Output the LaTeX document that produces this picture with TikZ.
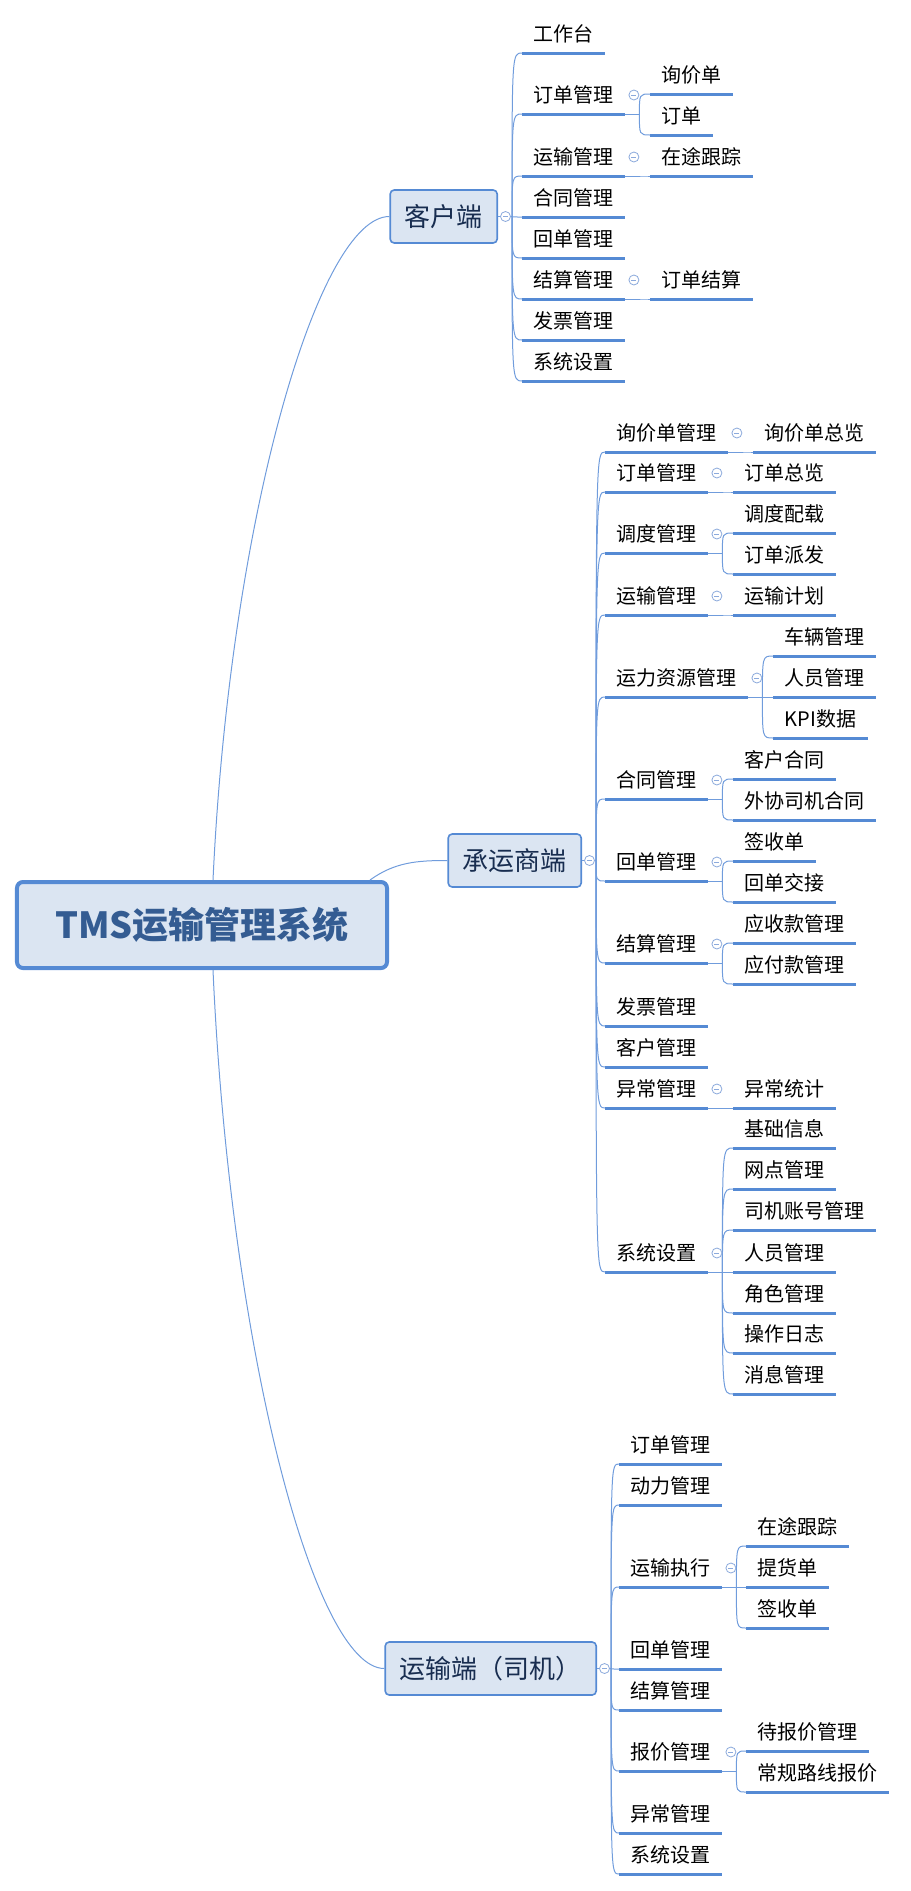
\documentclass[tikz,border=0pt]{standalone}
\usepackage{fontspec}
\setmainfont{Noto Sans CJK SC}
\usetikzlibrary{positioning}
\definecolor{linkblue}{RGB}{112,156,220}
\definecolor{lineblue}{RGB}{85,138,212}
\definecolor{boxfill}{RGB}{219,229,242}
\definecolor{foldblue}{RGB}{140,170,220}
\definecolor{rootblue}{RGB}{52,92,146}
\definecolor{navy}{RGB}{24,45,80}

\begin{document}
\begin{tikzpicture}[x=1bp, y=-1bp,
        every node/.style={font=\fontsize{20bp}{24bp}\selectfont},
        root/.style={draw=lineblue, fill=boxfill, line width=4bp, rounded corners=6bp,
            minimum width=370bp, minimum height=86bp, text=rootblue,
            font=\bfseries\fontsize{36bp}{40bp}\selectfont},
        main/.style={draw=lineblue, fill=boxfill, line width=1.6bp, rounded corners=4bp,
            minimum height=53bp, inner xsep=14.5bp, text=navy, anchor=east,
            font=\fontsize{26bp}{30bp}\selectfont},
        uline/.style={draw=lineblue, line width=3bp},
        topic/.style={anchor=south west, inner xsep=11.5bp, inner ysep=5.5bp,
            text height=15.5bp, text depth=5.5bp,
            append after command={(\tikzlastnode.south west) edge[uline] (\tikzlastnode.south east)}},
        link/.style={draw=linkblue, line width=1bp},
        fold/.style={circle, draw=foldblue, fill=white, line width=0.8bp, minimum size=10bp, inner sep=0pt,
            path picture={\draw[foldblue, line width=0.8bp] ([xshift=2.5bp]path picture bounding box.west) -- ([xshift=-2.5bp]path picture bounding box.east);}}]
    \useasboundingbox (0,0) rectangle (911,1891);

    \node[root] (tms) at (202,925) {TMS运输管理系统};
    \node[main] (kh) at (498,216.5) {客户端};
    \node[main] (cy) at (582,860.5) {承运商端};
    \node[main] (sj) at (597,1668.5) {运输端（司机）};

    \draw[link] ([xshift=11bp]tms.north) .. controls +(17,-362) and +(-71,0) .. (kh.west);
    \draw[link] ([xshift=-19bp]tms.north east) .. controls +(25,-18) and +(-30,0) .. (cy.west);
    \draw[link] ([xshift=11bp]tms.south) .. controls +(17,380) and +(-70,0) .. (sj.west);

    % 客户端
    \node[topic] (kh1) at (522,53) {工作台};
    \node[topic] (kh2) at (522,114) {订单管理};
    \node[topic] (kh2a) at (650,94) {询价单};
    \node[topic] (kh2b) at (650,135) {订单};
    \node[topic] (kh3) at (522,176) {运输管理};
    \node[topic] (kh3a) at (650,176) {在途跟踪};
    \node[topic] (kh4) at (522,217) {合同管理};
    \node[topic] (kh5) at (522,258) {回单管理};
    \node[topic] (kh6) at (522,299) {结算管理};
    \node[topic] (kh6a) at (650,299) {订单结算};
    \node[topic] (kh7) at (522,340) {发票管理};
    \node[topic] (kh8) at (522,381) {系统设置};

    % 承运商端
    \node[topic] (cy1) at (605,452) {询价单管理};
    \node[topic] (cy1a) at (753,452) {询价单总览};
    \node[topic] (cy2) at (605,492) {订单管理};
    \node[topic] (cy2a) at (733,492) {订单总览};
    \node[topic] (cy3) at (605,553) {调度管理};
    \node[topic] (cy3a) at (733,533) {调度配载};
    \node[topic] (cy3b) at (733,574) {订单派发};
    \node[topic] (cy4) at (605,615) {运输管理};
    \node[topic] (cy4a) at (733,615) {运输计划};
    \node[topic] (cy5) at (605,697) {运力资源管理};
    \node[topic] (cy5a) at (773,656) {车辆管理};
    \node[topic] (cy5b) at (773,697) {人员管理};
    \node[topic] (cy5c) at (773,738) {KPI数据};
    \node[topic] (cy6) at (605,799) {合同管理};
    \node[topic] (cy6a) at (733,779) {客户合同};
    \node[topic] (cy6b) at (733,820) {外协司机合同};
    \node[topic] (cy7) at (605,881) {回单管理};
    \node[topic] (cy7a) at (733,861) {签收单};
    \node[topic] (cy7b) at (733,902) {回单交接};
    \node[topic] (cy8) at (605,963) {结算管理};
    \node[topic] (cy8a) at (733,943) {应收款管理};
    \node[topic] (cy8b) at (733,984) {应付款管理};
    \node[topic] (cy9) at (605,1026) {发票管理};
    \node[topic] (cy10) at (605,1067) {客户管理};
    \node[topic] (cy11) at (605,1108) {异常管理};
    \node[topic] (cy11a) at (733,1108) {异常统计};
    \node[topic] (cy12) at (605,1272) {系统设置};
    \node[topic] (cy12a) at (733,1148) {基础信息};
    \node[topic] (cy12b) at (733,1189) {网点管理};
    \node[topic] (cy12c) at (733,1230) {司机账号管理};
    \node[topic] (cy12d) at (733,1272) {人员管理};
    \node[topic] (cy12e) at (733,1313) {角色管理};
    \node[topic] (cy12f) at (733,1353) {操作日志};
    \node[topic] (cy12g) at (733,1394) {消息管理};

    % 运输端
    \node[topic] (sj1) at (619,1464) {订单管理};
    \node[topic] (sj2) at (619,1505) {动力管理};
    \node[topic] (sj3) at (619,1587) {运输执行};
    \node[topic] (sj3a) at (746,1546) {在途跟踪};
    \node[topic] (sj3b) at (746,1587) {提货单};
    \node[topic] (sj3c) at (746,1628) {签收单};
    \node[topic] (sj4) at (619,1669) {回单管理};
    \node[topic] (sj5) at (619,1710) {结算管理};
    \node[topic] (sj6) at (619,1771) {报价管理};
    \node[topic] (sj6a) at (746,1751) {待报价管理};
    \node[topic] (sj6b) at (746,1792) {常规路线报价};
    \node[topic] (sj7) at (619,1833) {异常管理};
    \node[topic] (sj8) at (619,1874) {系统设置};

    \foreach \p/\kids in {kh/{kh1,kh2,kh3,kh4,kh5,kh6,kh7,kh8},
            cy/{cy1,cy2,cy3,cy4,cy5,cy6,cy7,cy8,cy9,cy10,cy11,cy12},
            sj/{sj1,sj2,sj3,sj4,sj5,sj6,sj7,sj8}} {
        \coordinate (\p-j) at ([xshift=14bp]\p.east);
        \draw[link] (\p.east) -- (\p-j);
        \foreach \c in \kids
            \draw[link] (\p-j) .. controls (\p-j |- \c.south west) and (\p-j |- \c.south west) .. (\c.south west);
        \node[fold] at ([xshift=7.5bp]\p.east) {};
    }

    \foreach \p/\kids in {kh2/{kh2a,kh2b}, kh3/{kh3a}, kh6/{kh6a},
            cy1/{cy1a}, cy2/{cy2a}, cy3/{cy3a,cy3b}, cy4/{cy4a}, cy5/{cy5a,cy5b,cy5c},
            cy6/{cy6a,cy6b}, cy7/{cy7a,cy7b}, cy8/{cy8a,cy8b}, cy11/{cy11a},
            cy12/{cy12a,cy12b,cy12c,cy12d,cy12e,cy12f,cy12g},
            sj3/{sj3a,sj3b,sj3c}, sj6/{sj6a,sj6b}} {
        \coordinate (\p-j) at ([xshift=14bp]\p.south east);
        \draw[link] (\p.south east) -- (\p-j);
        \foreach \c in \kids
            \draw[link] (\p-j) .. controls (\p-j |- \c.south west) and (\p-j |- \c.south west) .. (\c.south west);
        \node[fold] at ([xshift=8.5bp,yshift=19bp]\p.south east) {};
    }
\end{tikzpicture}
\end{document}
